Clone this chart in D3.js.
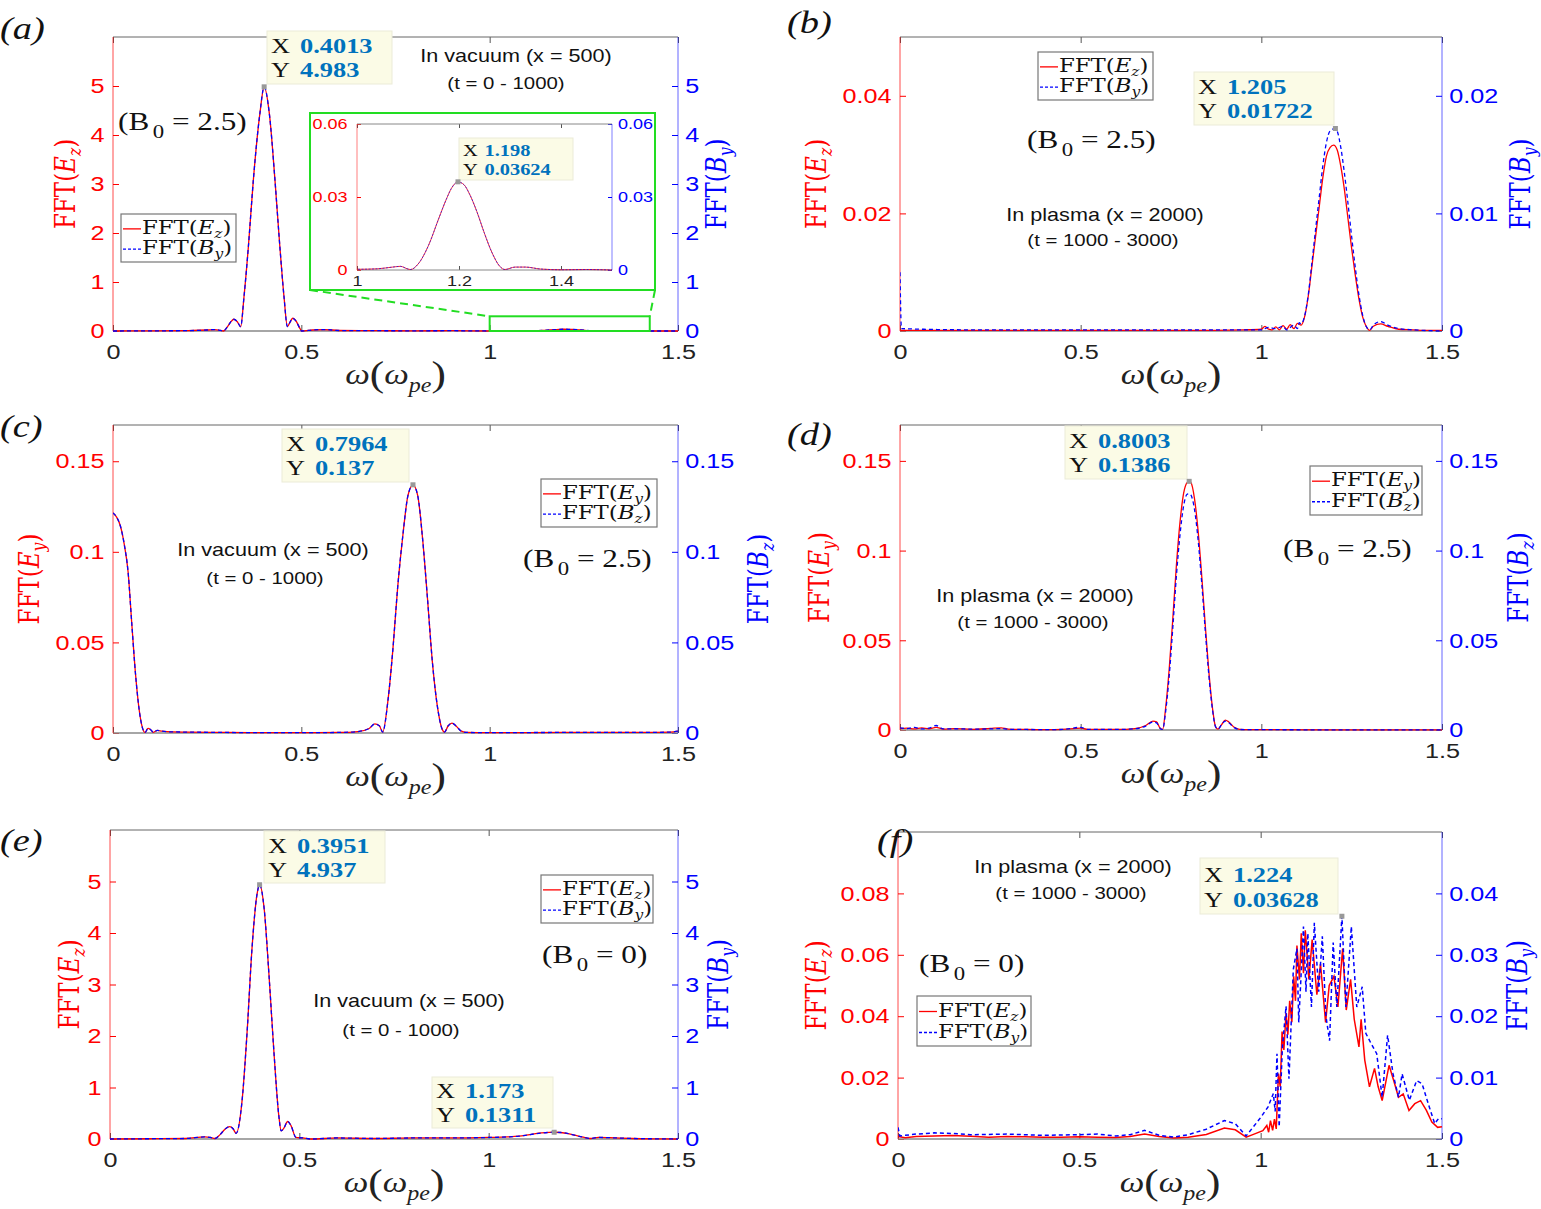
<!DOCTYPE html>
<html>
<head>
<meta charset="utf-8">
<script src="https://cdn.jsdelivr.net/npm/d3@7"></script>
<style>
  body { margin: 0; background: #fff; }
</style>
</head>
<body>
<script>
// ---- values ----
// panel (a): vacuum, B0 = 2.5, FFT(Ez) / FFT(By) (the two curves coincide)
const aOmega = [0, 0.1, 0.2, 0.25, 0.27, 0.285, 0.293, 0.305, 0.313, 0.321, 0.33, 0.339, 0.3478, 0.3594, 0.3726, 0.39, 0.4013, 0.415, 0.43, 0.443, 0.454, 0.463, 0.47, 0.477, 0.487, 0.495, 0.501, 0.53, 0.56, 0.6, 0.7, 0.8, 0.9, 1.0, 1.04, 1.07, 1.085, 1.1, 1.105, 1.12, 1.14, 1.16, 1.175, 1.185, 1.198, 1.21, 1.22, 1.235, 1.25, 1.265, 1.28, 1.29, 1.31, 1.33, 1.36, 1.4, 1.45, 1.5];
const aEz = [0, 0.003, 0.008, 0.02, 0.03, 0.012, 0, 0.1, 0.19, 0.24, 0.19, 0.09, 0.7, 1.72, 3.08, 4.44, 4.983, 4.44, 3.08, 1.72, 0.7, 0.09, 0.18, 0.26, 0.19, 0.07, 0, 0.02, 0.03, 0.01, 0.006, 0.004, 0.006, 0.0003, 0.0005, 0.0012, 0.0015, 0.0004, 0.0002, 0.0025, 0.01, 0.021, 0.029, 0.0335, 0.0362, 0.035, 0.0315, 0.024, 0.015, 0.007, 0.0015, 0.0002, 0.0012, 0.0012, 0.0004, 0.0001, 0.0002, 0];
const aBy = aEz.slice();

// panel (b): plasma, B0 = 2.5
const bOmegaE = [0, 0.005, 0.2, 0.5, 0.8, 0.95, 1.0, 1.01, 1.02, 1.03, 1.04, 1.05, 1.06, 1.07, 1.08, 1.09, 1.1, 1.11, 1.12, 1.13, 1.14, 1.15, 1.16, 1.17, 1.18, 1.19, 1.2, 1.21, 1.22, 1.23, 1.24, 1.25, 1.26, 1.27, 1.28, 1.29, 1.3, 1.31, 1.33, 1.35, 1.38, 1.42, 1.45, 1.5];
const bEz = [0.0002, 0.0001, 0.0001, 0.0001, 0.0001, 0.0002, 0.0003, 0.0008, 0.0003, 0.0002, 0.0007, 0.0002, 0.0009, 0.0003, 0.0011, 0.0004, 0.0013, 0.001, 0.0025, 0.006, 0.011, 0.016, 0.021, 0.026, 0.0297, 0.0312, 0.0316, 0.0308, 0.028, 0.024, 0.019, 0.014, 0.0095, 0.0055, 0.0025, 0.0008, 0.0001, 0.0008, 0.0012, 0.0008, 0.0003, 0.0002, 0.0001, 0.0001];
const bOmegaB = [0, 0.004, 0.2, 0.5, 0.8, 0.95, 1.0, 1.02, 1.04, 1.06, 1.07, 1.09, 1.1, 1.105, 1.11, 1.12, 1.13, 1.14, 1.15, 1.16, 1.17, 1.18, 1.19, 1.205, 1.21, 1.22, 1.23, 1.24, 1.25, 1.26, 1.27, 1.28, 1.29, 1.3, 1.31, 1.33, 1.35, 1.38, 1.42, 1.5];
const bBy = [0.005, 0.0002, 0.0001, 0.0001, 0.0001, 0.0001, 0.0001, 0.0003, 0.0002, 0.0004, 0.0001, 0.0005, 0.0002, 0.0007, 0.0006, 0.0013, 0.0031, 0.0058, 0.0086, 0.0113, 0.014, 0.016, 0.017, 0.01722, 0.017, 0.0156, 0.0134, 0.0108, 0.008, 0.0054, 0.0031, 0.0014, 0.0004, 0.0001, 0.0005, 0.0008, 0.0005, 0.0002, 0.0001, 0];

// panel (c): vacuum, B0 = 2.5, FFT(Ey) / FFT(Bz) (coincide)
const cOmega = [0, 0.01, 0.02, 0.03, 0.04, 0.05, 0.06, 0.07, 0.078, 0.085, 0.093, 0.1, 0.107, 0.118, 0.13, 0.16, 0.2, 0.3, 0.4, 0.5, 0.6, 0.65, 0.68, 0.695, 0.707, 0.716, 0.73, 0.743, 0.756, 0.77, 0.783, 0.7964, 0.809, 0.822, 0.835, 0.848, 0.861, 0.874, 0.88, 0.89, 0.9, 0.91, 0.925, 0.94, 1.0, 1.2, 1.4, 1.48, 1.5];
const cEy = [0.1215, 0.119, 0.114, 0.104, 0.089, 0.06, 0.032, 0.012, 0.003, 0.0003, 0.0025, 0.0018, 0.0004, 0.0015, 0.001, 0.0006, 0.0005, 0.0003, 0.0002, 0.0002, 0.0003, 0.0008, 0.0025, 0.005, 0.004, 0.0005, 0.018, 0.046, 0.081, 0.11, 0.131, 0.137, 0.131, 0.107, 0.074, 0.039, 0.015, 0.002, 0.0005, 0.004, 0.0055, 0.004, 0.001, 0.0003, 0.0002, 0.0003, 0.0003, 0.0005, 0.001];
const cBz = cEy.slice();

// panel (d): plasma, B0 = 2.5
const dOmega = [0, 0.02, 0.04, 0.06, 0.08, 0.1, 0.12, 0.15, 0.2, 0.25, 0.28, 0.3, 0.35, 0.4, 0.45, 0.5, 0.52, 0.6, 0.65, 0.68, 0.7, 0.71, 0.72, 0.727, 0.735, 0.745, 0.755, 0.765, 0.775, 0.785, 0.795, 0.8003, 0.805, 0.815, 0.825, 0.835, 0.845, 0.855, 0.865, 0.873, 0.88, 0.89, 0.9, 0.91, 0.925, 0.94, 1.0, 1.2, 1.5];
const dEy = [0.0008, 0.001, 0.0006, 0.0012, 0.0007, 0.0015, 0.0005, 0.0008, 0.0004, 0.0009, 0.0012, 0.0005, 0.0003, 0.0002, 0.0004, 0.001, 0.0004, 0.0003, 0.0008, 0.0025, 0.005, 0.0045, 0.001, 0.0003, 0.012, 0.034, 0.062, 0.092, 0.116, 0.132, 0.138, 0.1386, 0.138, 0.129, 0.111, 0.086, 0.058, 0.032, 0.012, 0.002, 0.0005, 0.003, 0.0055, 0.0045, 0.0015, 0.0004, 0.0002, 0.0001, 0.0001];
const dBz = [0.0012, 0.0008, 0.0015, 0.0006, 0.001, 0.0025, 0.0006, 0.0007, 0.0005, 0.0006, 0.0008, 0.0004, 0.0003, 0.0002, 0.0003, 0.0015, 0.0003, 0.0003, 0.0007, 0.0022, 0.0045, 0.004, 0.0009, 0.0003, 0.01, 0.03, 0.057, 0.086, 0.109, 0.125, 0.1315, 0.1317, 0.131, 0.123, 0.106, 0.082, 0.055, 0.03, 0.011, 0.002, 0.0005, 0.003, 0.005, 0.004, 0.0013, 0.0003, 0.0002, 0.0001, 0.0001];

// panel (e): vacuum, B0 = 0 (coincide)
const eOmega = [0, 0.1, 0.2, 0.25, 0.265, 0.277, 0.29, 0.305, 0.316, 0.325, 0.333, 0.349, 0.362, 0.375, 0.388, 0.3951, 0.407, 0.42, 0.433, 0.446, 0.452, 0.46, 0.469, 0.478, 0.491, 0.51, 0.53, 0.6, 0.7, 0.8, 0.9, 1.0, 1.05, 1.08, 1.1, 1.12, 1.14, 1.16, 1.173, 1.19, 1.21, 1.23, 1.25, 1.27, 1.29, 1.32, 1.38, 1.45, 1.5];
const eEz = [0, 0.005, 0.01, 0.04, 0.03, 0.01, 0.08, 0.2, 0.24, 0.2, 0.11, 0.76, 2.07, 3.7, 4.74, 4.937, 4.48, 3.17, 1.68, 0.44, 0.16, 0.22, 0.34, 0.26, 0.03, 0.02, 0, 0.02, 0.01, 0.02, 0.02, 0.03, 0.04, 0.055, 0.075, 0.098, 0.117, 0.128, 0.1311, 0.126, 0.105, 0.07, 0.035, 0.01, 0.03, 0.025, 0.01, 0.003, 0];
const eBy = eEz.slice();

// panel (f): plasma, B0 = 0
const fOmegaE = [0, 0.02, 0.05, 0.1, 0.15, 0.2, 0.25, 0.3, 0.35, 0.4, 0.45, 0.5, 0.55, 0.6, 0.64, 0.68, 0.72, 0.76, 0.8, 0.85, 0.9, 0.93, 0.96, 0.98, 1.006, 1.017, 1.022, 1.027, 1.033, 1.038, 1.043, 1.049, 1.054, 1.059, 1.064, 1.07, 1.075, 1.08, 1.086, 1.091, 1.096, 1.1, 1.107, 1.112, 1.118, 1.123, 1.133, 1.142, 1.155, 1.165, 1.179, 1.189, 1.202, 1.213, 1.226, 1.236, 1.248, 1.258, 1.271, 1.277, 1.287, 1.3, 1.314, 1.324, 1.335, 1.354, 1.367, 1.38, 1.393, 1.409, 1.425, 1.441, 1.457, 1.472, 1.488, 1.5];
const fEz = [0.0008, 0.0004, 0.0008, 0.001, 0.0011, 0.0009, 0.0006, 0.0008, 0.0007, 0.0006, 0.0006, 0.0007, 0.0006, 0.0005, 0.0008, 0.0016, 0.0008, 0.0003, 0.0006, 0.0015, 0.0036, 0.003, 0.0006, 0.0015, 0.0027, 0.0044, 0.0022, 0.006, 0.0028, 0.0065, 0.0033, 0.0213, 0.017, 0.035, 0.029, 0.041, 0.034, 0.045, 0.038, 0.053, 0.045, 0.063, 0.052, 0.067, 0.054, 0.068, 0.052, 0.065, 0.047, 0.057, 0.038, 0.05, 0.053, 0.043, 0.062, 0.042, 0.052, 0.039, 0.03, 0.039, 0.0257, 0.017, 0.023, 0.017, 0.0125, 0.024, 0.019, 0.0136, 0.0147, 0.0093, 0.0115, 0.0125, 0.0093, 0.0055, 0.0038, 0.004];
const fOmegaB = [0, 0.005, 0.05, 0.1, 0.15, 0.2, 0.3, 0.4, 0.5, 0.55, 0.6, 0.64, 0.68, 0.72, 0.76, 0.8, 0.85, 0.9, 0.93, 0.96, 1.0, 1.02, 1.035, 1.04, 1.045, 1.051, 1.06, 1.07, 1.078, 1.09, 1.1, 1.105, 1.118, 1.125, 1.13, 1.14, 1.148, 1.16, 1.17, 1.18, 1.19, 1.2, 1.21, 1.224, 1.235, 1.25, 1.265, 1.28, 1.29, 1.305, 1.32, 1.335, 1.35, 1.365, 1.38, 1.39, 1.41, 1.43, 1.445, 1.465, 1.48, 1.49, 1.5];
const fBy = [0.0019, 0.0005, 0.0008, 0.001, 0.0009, 0.0007, 0.0008, 0.0006, 0.0007, 0.0008, 0.0005, 0.0007, 0.0014, 0.0006, 0.0003, 0.0007, 0.0016, 0.003, 0.0025, 0.0005, 0.0035, 0.0052, 0.0074, 0.0045, 0.0139, 0.002, 0.015, 0.0216, 0.0098, 0.0276, 0.031, 0.019, 0.0346, 0.024, 0.0335, 0.0215, 0.0352, 0.024, 0.033, 0.02, 0.016, 0.032, 0.0215, 0.03628, 0.0215, 0.0346, 0.0215, 0.0248, 0.0172, 0.0155, 0.0139, 0.0068, 0.0169, 0.0106, 0.0068, 0.0106, 0.0063, 0.0095, 0.009, 0.0052, 0.0025, 0.0033, 0.0033];

// data tips [omega, value]
const aTip = [0.4013, 4.983];
const aInsetTip = [1.198, 0.03624];
const bTip = [1.205, 0.01722];
const cTip = [0.7964, 0.137];
const dTip = [0.8003, 0.1386];
const eTipMain = [0.3951, 4.937];
const eTipSecond = [1.173, 0.1311];
const fTip = [1.224, 0.03628];

// ticks
const xTicks = [0, 0.5, 1, 1.5];
const ticksBig = [0, 1, 2, 3, 4, 5];
const ticksB_L = [0, 0.02, 0.04];
const ticksB_R = [0, 0.01, 0.02];
const ticksCD = [0, 0.05, 0.1, 0.15];
const ticksF_L = [0, 0.02, 0.04, 0.06, 0.08];
const ticksF_R = [0, 0.01, 0.02, 0.03, 0.04];
const insetXTicks = [1, 1.2, 1.4];
const insetYTicks = [0, 0.03, 0.06];

// text labels
const panelLetters = ["a", "b", "c", "d", "e", "f"];
const regionLabels = ["In vacuum (x = 500)", "In plasma (x = 2000)", "In vacuum (x = 500)", "In plasma (x = 2000)", "In vacuum (x = 500)", "In plasma (x = 2000)"];
const timeLabels = ["(t = 0 - 1000)", "(t = 1000 - 3000)", "(t = 0 - 1000)", "(t = 1000 - 3000)", "(t = 0 - 1000)", "(t = 1000 - 3000)"];
const fieldB0 = [2.5, 2.5, 2.5, 2.5, 0, 0];
const fieldPairs = [["E", "z", "B", "y"], ["E", "z", "B", "y"], ["E", "y", "B", "z"], ["E", "y", "B", "z"], ["E", "z", "B", "y"], ["E", "z", "B", "y"]];

// ---- drawing ----
const SERIF = "'Liberation Serif', 'Times New Roman', serif";
const TEX = "'DejaVu Serif', serif";
const SANS = "'Liberation Sans', Arial, sans-serif";
const RED = "#ff0000", BLUE = "#0000ff", TIPBLUE = "#0072bd";
const SX = 1.2;   // the figure's lettering is drawn wide
const fmt = v => String(v);

const svg = d3.select("body").append("svg")
    .attr("width", 1541).attr("height", 1209)
    .style("background-color", "#fff");

function stext(g, x, y, rot) {
  return g.append("text")
      .attr("transform", `translate(${x},${y}) scale(${SX},1)` + (rot ? " rotate(-90)" : ""));
}

const panels = [
  {x0: 113, x1: 678, y0: 37, y1: 331, domL: [0, 6], domR: [0, 6], tL: ticksBig, tR: ticksBig,
   red: [aOmega, aEz], blue: [aOmega, aBy], smooth: true,
   labL: 67, labR: 718, letter: [0, 39], legend: [121, 214, 115, 48],
   tips: [{d: aTip, side: "L", box: [267, 31, 125, 53]}],
   region: [516, 62], time: [506, 89], b0: [118, 130]},
  {x0: 900, x1: 1442, y0: 37, y1: 331, domL: [0, 0.05], domR: [0, 0.025], tL: ticksB_L, tR: ticksB_R,
   red: [bOmegaE, bEz], blue: [bOmegaB, bBy], smooth: true,
   labL: 818, labR: 1522, letter: [787, 33], legend: [1038, 52, 115, 48],
   tips: [{d: bTip, side: "R", box: [1194, 72, 140, 53]}],
   region: [1105, 221], time: [1103, 246], b0: [1027, 148]},
  {x0: 113, x1: 678, y0: 425, y1: 733, domL: [0, 0.17], domR: [0, 0.17], tL: ticksCD, tR: ticksCD,
   red: [cOmega, cEy], blue: [cOmega, cBz], smooth: true,
   labL: 31, labR: 760, letter: [0, 437], legend: [541, 479, 116, 48],
   tips: [{d: cTip, side: "L", box: [282, 429, 127, 53]}],
   region: [273, 556], time: [265, 584], b0: [523, 567]},
  {x0: 900, x1: 1442, y0: 425, y1: 730, domL: [0, 0.17], domR: [0, 0.17], tL: ticksCD, tR: ticksCD,
   red: [dOmega, dEy], blue: [dOmega, dBz], smooth: true,
   labL: 821, labR: 1520, letter: [787, 445], legend: [1310, 466, 112, 49],
   tips: [{d: dTip, side: "L", box: [1065, 426, 122, 53]}],
   region: [1035, 602], time: [1033, 628], b0: [1283, 557]},
  {x0: 110, x1: 678, y0: 830, y1: 1139, domL: [0, 6], domR: [0, 6], tL: ticksBig, tR: ticksBig,
   red: [eOmega, eEz], blue: [eOmega, eBy], smooth: true,
   labL: 71, labR: 720, letter: [0, 851], legend: [541, 875, 112, 48],
   tips: [{d: eTipMain, side: "L", box: [264, 831, 121, 52]},
          {d: eTipSecond, side: "L", box: [432, 1077, 121, 51]}],
   region: [409, 1007], time: [401, 1036], b0: [542, 963]},
  {x0: 898, x1: 1442, y0: 832, y1: 1139, domL: [0, 0.1], domR: [0, 0.05], tL: ticksF_L, tR: ticksF_R,
   red: [fOmegaE, fEz], blue: [fOmegaB, fBy], smooth: false, lw: 1.5,
   labL: 818, labR: 1519, letter: [877, 851], legend: [917, 996, 114, 50],
   tips: [{d: fTip, side: "R", box: [1200, 858, 138, 56]}],
   region: [1073, 873], time: [1071, 899], b0: [919, 972]}
];

function fftText(t, letter, sub, size) {
  t.append("tspan").text("FFT(");
  t.append("tspan").attr("font-style", "italic").text(letter);
  t.append("tspan").attr("font-style", "italic").attr("font-size", size * 0.68).attr("dy", size * 0.22).text(sub);
  t.append("tspan").attr("dy", -size * 0.22).text(")");
}

function omegaLabel(g, cx, y) {
  const t = stext(g, cx, y).attr("text-anchor", "middle")
      .attr("font-family", SERIF).attr("font-size", 29).attr("fill", "#222");
  t.append("tspan").attr("font-style", "italic").text("ω");
  t.append("tspan").attr("font-size", 36).attr("dy", 2).text("(");
  t.append("tspan").attr("font-style", "italic").attr("dy", -2).text("ω");
  t.append("tspan").attr("font-style", "italic").attr("font-size", 20).attr("dy", 8).text("pe");
  t.append("tspan").attr("font-size", 36).attr("dy", -6).text(")");
}

function b0Label(g, x, y, val) {
  const t = stext(g, x, y).attr("font-family", SERIF).attr("font-size", 26).attr("fill", "#111");
  t.append("tspan").text("(B");
  t.append("tspan").attr("font-size", 19).attr("dx", 3).attr("dy", 8).text("0");
  t.append("tspan").attr("dy", -8).text(" = " + val + ")");
}

function datatip(g, px, py, box, d, fs) {
  g.append("rect").attr("x", box[0]).attr("y", box[1]).attr("width", box[2]).attr("height", box[3])
      .attr("fill", "#fbfbe6").attr("stroke", "#ebebd8");
  g.append("rect").attr("x", px - 2.5).attr("y", py - 2.5).attr("width", 5).attr("height", 5).attr("fill", "#999");
  [["X", d[0]], ["Y", d[1]]].forEach((r, i) => {
    const by = box[1] + (i ? 0.875 : 0.42) * box[3];
    stext(g, box[0] + 4, by).attr("font-family", SERIF).attr("font-size", fs).attr("fill", "#111").text(r[0]);
    stext(g, box[0] + fs * 1.5, by).attr("font-family", SERIF).attr("font-size", fs).attr("font-weight", "bold")
        .attr("fill", TIPBLUE).text(fmt(r[1]));
  });
}

function legend(g, box, pair) {
  g.append("rect").attr("x", box[0]).attr("y", box[1]).attr("width", box[2]).attr("height", box[3])
      .attr("fill", "#fff").attr("stroke", "#777").attr("stroke-width", 1.2);
  [[pair[0], pair[1], RED, null], [pair[2], pair[3], BLUE, "3,2"]].forEach((e, i) => {
    const cy = box[1] + box[3] * (i ? 0.73 : 0.31);
    g.append("line").attr("x1", box[0] + 2).attr("x2", box[0] + 20).attr("y1", cy).attr("y2", cy)
        .attr("stroke", e[2]).attr("stroke-width", 1.3).attr("stroke-dasharray", e[3]);
    const t = stext(g, box[0] + 21, cy + 5).attr("font-family", TEX).attr("font-size", 19).attr("fill", "#111");
    fftText(t, e[0], e[1], 19);
  });
}

function styleAxis(s, color, size) {
  s.select(".domain").remove();
  s.selectAll("line").attr("stroke", color === "#222" ? "#555" : color);
  s.selectAll("text").attr("font-family", SANS).attr("font-size", size).attr("fill", color)
      .attr("transform", `scale(${SX},1)`);
}

function drawPanel(p, i) {
  const g = svg.append("g");
  const x = d3.scaleLinear().domain([0, 1.5]).range([p.x0, p.x1]);
  const yL = d3.scaleLinear().domain(p.domL).range([p.y1, p.y0]);
  const yR = d3.scaleLinear().domain(p.domR).range([p.y1, p.y0]);

  // axes (ticks pointing inward)
  g.append("g").attr("transform", `translate(0,${p.y1})`)
      .call(d3.axisBottom(x).tickValues(xTicks).tickFormat(fmt).tickSizeInner(-6).tickSizeOuter(0).tickPadding(13.5))
      .call(s => styleAxis(s, "#222", 21));
  g.append("g").attr("transform", `translate(0,${p.y0})`)
      .call(d3.axisTop(x).tickValues(xTicks).tickFormat("").tickSizeInner(-6).tickSizeOuter(0))
      .call(s => { s.select(".domain").remove(); s.selectAll("line").attr("stroke", "#555"); });
  g.append("g").attr("transform", `translate(${p.x0},0)`)
      .call(d3.axisLeft(yL).tickValues(p.tL).tickFormat(fmt).tickSizeInner(-6).tickSizeOuter(0).tickPadding(7))
      .call(s => styleAxis(s, RED, 21));
  g.append("g").attr("transform", `translate(${p.x1},0)`)
      .call(d3.axisRight(yR).tickValues(p.tR).tickFormat(fmt).tickSizeInner(-6).tickSizeOuter(0).tickPadding(6))
      .call(s => styleAxis(s, BLUE, 21));

  // spines
  g.append("line").attr("x1", p.x0).attr("x2", p.x1).attr("y1", p.y0).attr("y2", p.y0).attr("stroke", "#666");
  g.append("line").attr("x1", p.x0).attr("x2", p.x1).attr("y1", p.y1).attr("y2", p.y1).attr("stroke", "#888").attr("stroke-width", 1.6);
  g.append("line").attr("x1", p.x0).attr("x2", p.x0).attr("y1", p.y0).attr("y2", p.y1).attr("stroke", RED).attr("stroke-opacity", 0.7);
  g.append("line").attr("x1", p.x1).attr("x2", p.x1).attr("y1", p.y0).attr("y2", p.y1).attr("stroke", BLUE).attr("stroke-opacity", 0.6);

  // curves
  const clipId = "clip" + i;
  g.append("clipPath").attr("id", clipId).append("rect")
      .attr("x", p.x0).attr("y", p.y0 - 2).attr("width", p.x1 - p.x0).attr("height", p.y1 - p.y0 + 4);
  const curve = p.smooth ? d3.curveMonotoneX : d3.curveLinear;
  const lw = p.lw || 1.3;
  const redLine = d3.line().x(d => x(d[0])).y(d => yL(d[1])).curve(curve);
  const blueLine = d3.line().x(d => x(d[0])).y(d => yR(d[1])).curve(curve);
  g.append("path").datum(d3.zip(p.red[0], p.red[1])).attr("clip-path", `url(#${clipId})`)
      .attr("d", redLine).attr("fill", "none").attr("stroke", RED).attr("stroke-width", lw);
  g.append("path").datum(d3.zip(p.blue[0], p.blue[1])).attr("clip-path", `url(#${clipId})`)
      .attr("d", blueLine).attr("fill", "none").attr("stroke", BLUE).attr("stroke-width", lw)
      .attr("stroke-dasharray", "4,3");

  // labels
  omegaLabel(g, (p.x0 + p.x1) / 2, p.y1 + 53);
  const midY = (p.y0 + p.y1) / 2;
  const pair = fieldPairs[i];
  const tl = stext(g, p.labL + 8, midY, true).attr("text-anchor", "middle")
      .attr("font-family", TEX).attr("font-size", 23).attr("fill", RED);
  fftText(tl, pair[0], pair[1], 23);
  const tr = stext(g, p.labR + 8, midY, true).attr("text-anchor", "middle")
      .attr("font-family", TEX).attr("font-size", 23).attr("fill", BLUE);
  fftText(tr, pair[2], pair[3], 23);

  stext(g, p.letter[0], p.letter[1])
      .attr("font-family", SERIF).attr("font-style", "italic").attr("font-size", 32).attr("fill", "#111")
      .text("(" + panelLetters[i] + ")");

  stext(g, p.region[0], p.region[1]).attr("text-anchor", "middle")
      .attr("font-family", SANS).attr("font-size", 18).attr("fill", "#111").text(regionLabels[i]);
  stext(g, p.time[0], p.time[1]).attr("text-anchor", "middle")
      .attr("font-family", SANS).attr("font-size", 17).attr("fill", "#111").text(timeLabels[i]);
  b0Label(g, p.b0[0], p.b0[1], fieldB0[i]);

  legend(g, p.legend, pair);

  p.tips.forEach(t => {
    const ys = t.side === "L" ? yL : yR;
    datatip(g, x(t.d[0]), ys(t.d[1]), t.box, t.d, 22);
  });

  return {g, x, yL};
}

const drawn = panels.map(drawPanel);

// ---- inset of panel (a) ----
(function () {
  const {g, x, yL} = drawn[0];
  const green = "#22dd22";
  const zoomX = [1, 1.425], zoomTop = 0.3;
  const outer = [310, 113, 655, 290];
  // zoom region on the main axes
  g.append("rect").attr("x", x(zoomX[0])).attr("y", yL(zoomTop))
      .attr("width", x(zoomX[1]) - x(zoomX[0])).attr("height", yL(0) - yL(zoomTop))
      .attr("fill", "none").attr("stroke", green).attr("stroke-width", 2);
  g.append("line").attr("x1", outer[0]).attr("y1", outer[3]).attr("x2", x(zoomX[0])).attr("y2", yL(zoomTop))
      .attr("stroke", green).attr("stroke-width", 2).attr("stroke-dasharray", "8,5");
  g.append("line").attr("x1", outer[2]).attr("y1", outer[3]).attr("x2", x(zoomX[1])).attr("y2", yL(zoomTop))
      .attr("stroke", green).attr("stroke-width", 2).attr("stroke-dasharray", "8,5");
  g.append("rect").attr("x", outer[0]).attr("y", outer[1])
      .attr("width", outer[2] - outer[0]).attr("height", outer[3] - outer[1])
      .attr("fill", "#fff").attr("stroke", green).attr("stroke-width", 2);

  const ix = d3.scaleLinear().domain([1, 1.5]).range([357, 612]);
  const iy = d3.scaleLinear().domain([0, 0.06]).range([270, 124]);
  const ig = g.append("g");
  ig.append("g").attr("transform", "translate(0,270)")
      .call(d3.axisBottom(ix).tickValues(insetXTicks).tickFormat(fmt).tickSizeInner(-4).tickSizeOuter(0).tickPadding(5.5))
      .call(s => styleAxis(s, "#222", 15));
  ig.append("g").attr("transform", "translate(0,124)")
      .call(d3.axisTop(ix).tickValues(insetXTicks).tickFormat("").tickSizeInner(-4).tickSizeOuter(0))
      .call(s => { s.select(".domain").remove(); s.selectAll("line").attr("stroke", "#555"); });
  ig.append("g").attr("transform", "translate(357,0)")
      .call(d3.axisLeft(iy).tickValues(insetYTicks).tickFormat(fmt).tickSizeInner(-4).tickSizeOuter(0).tickPadding(8))
      .call(s => styleAxis(s, RED, 15));
  ig.append("g").attr("transform", "translate(612,0)")
      .call(d3.axisRight(iy).tickValues(insetYTicks).tickFormat(fmt).tickSizeInner(-4).tickSizeOuter(0).tickPadding(5))
      .call(s => styleAxis(s, BLUE, 15));
  ig.append("line").attr("x1", 357).attr("x2", 612).attr("y1", 124).attr("y2", 124).attr("stroke", "#888");
  ig.append("line").attr("x1", 357).attr("x2", 612).attr("y1", 270).attr("y2", 270).attr("stroke", "#888");
  ig.append("line").attr("x1", 357).attr("x2", 357).attr("y1", 124).attr("y2", 270).attr("stroke", RED).attr("stroke-opacity", 0.5);
  ig.append("line").attr("x1", 612).attr("x2", 612).attr("y1", 124).attr("y2", 270).attr("stroke", BLUE).attr("stroke-opacity", 0.5);

  ig.append("clipPath").attr("id", "clipInset").append("rect").attr("x", 357).attr("y", 124).attr("width", 255).attr("height", 147);
  const line = d3.line().x(d => ix(d[0])).y(d => iy(d[1])).curve(d3.curveMonotoneX);
  ig.append("path").datum(d3.zip(aOmega, aEz)).attr("clip-path", "url(#clipInset)")
      .attr("d", line).attr("fill", "none").attr("stroke", RED).attr("stroke-width", 1).attr("stroke-opacity", 0.8);
  ig.append("path").datum(d3.zip(aOmega, aBy)).attr("clip-path", "url(#clipInset)")
      .attr("d", line).attr("fill", "none").attr("stroke", BLUE).attr("stroke-width", 1).attr("stroke-opacity", 0.6)
      .attr("stroke-dasharray", "2,1.5");
  datatip(ig, ix(aInsetTip[0]), iy(aInsetTip[1]), [459, 138, 114, 42], aInsetTip, 17);
})();
</script>
</body>
</html>
